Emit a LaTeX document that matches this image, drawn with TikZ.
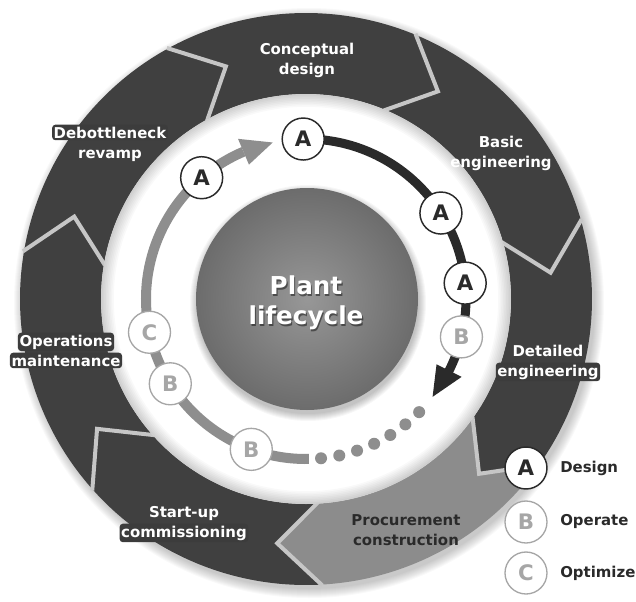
\documentclass[tikz,border=0pt]{standalone}
\usepackage{fontspec}
\setmainfont{DejaVu Sans}
\definecolor{ringgray}{HTML}{404040}
\definecolor{ringlight}{HTML}{8C8C8C}
\definecolor{sepgray}{HTML}{C6C6C6}
\definecolor{inkdark}{HTML}{2A2A2A}
\definecolor{inklight}{HTML}{A6A6A6}
\definecolor{trackgray}{HTML}{8E8E8E}
\definecolor{ballin}{HTML}{979797}
\definecolor{ballout}{HTML}{6C6C6C}
\definecolor{halo}{HTML}{3C3C3C}
\begin{document}
\begin{tikzpicture}[x=0.75pt,y=0.75pt,
  seglabel/.style={font=\fontsize{11.2}{15}\selectfont\bfseries, align=center, inner sep=0pt, text=white},
  boxline/.style={font=\fontsize{11.2}{15}\selectfont\bfseries, text=white, anchor=base,
    fill=halo, rounded corners=2.5pt, inner xsep=1.2pt, inner ysep=1.5pt},
  plainline/.style={font=\fontsize{11.2}{15}\selectfont\bfseries, text=white, anchor=base, inner sep=0pt},
  sep/.style={draw=sepgray, line width=3pt, line join=miter},
  marker/.style={circle, minimum size=31.5pt, inner sep=0pt, fill=white,
    font=\fontsize{16}{16}\selectfont\bfseries},
  markA/.style={marker, draw=inkdark, line width=1.1pt, text=inkdark},
  markB/.style={marker, draw=inklight, line width=1pt, text=inklight},
  legendtext/.style={anchor=west, inner sep=0pt, text=inkdark,
    font=\fontsize{11.2}{15}\selectfont\bfseries}]
\useasboundingbox (-306,-302) rectangle (330,299);

% soft shadow under the outer ring
\foreach \i in {1,...,10}{\fill[black, opacity=0.022] (3,-4) circle ({285+\i});}

% seven chevron segments of the lifecycle ring
\foreach \k/\col in {0/ringgray,1/ringgray,2/ringgray,3/ringlight,4/ringgray,5/ringgray,6/ringgray}{
  \pgfmathsetmacro\a{119-51.4286*\k}
  \pgfmathsetmacro\b{\a-51.4286}
  \pgfmathsetmacro\at{\a-10}
  \pgfmathsetmacro\bt{\b-10}
  \fill[\col] (\a:286) arc[start angle=\a, end angle=\b, radius=286]
    -- (\bt:246) -- (\b:205) arc[start angle=\b, end angle=\a, radius=205]
    -- (\at:246) -- cycle;
}
% separators between segments
\foreach \k in {0,...,6}{
  \pgfmathsetmacro\a{119-51.4286*\k}
  \pgfmathsetmacro\at{\a-10}
  \draw[sep] (\a:287) -- (\at:246) -- (\a:204);
}

% white band with soft inner edge
\fill[white] (0,0) circle (205);
\foreach \i in {1,...,8}{\fill[black, opacity=0.025, even odd rule] (0,0) circle (205) (0,0) circle ({205-1.6*\i});}

% centre ball
\foreach \i in {1,...,8}{\fill[black, opacity=0.03] (2,-4) circle ({110+\i});}
\node[circle, minimum size=166.5pt, inner sep=0pt, inner color=ballin, outer color=ballout, shade] (ball) at (1,0) {};
\node[font=\fontsize{18.5}{22.5}\selectfont\bfseries, align=center, text=black, opacity=0.45, xshift=0.8pt, yshift=-1.1pt] (ballshadow) at (0,-4) {Plant\\lifecycle};
\node[font=\fontsize{18.5}{22.5}\selectfont\bfseries, align=center, text=white] (balltext) at (0,-4) {Plant\\lifecycle};

% track: grey operating arc with arrow
\draw[trackgray, line width=7.5pt] (-89:160) arc[start angle=-89, end angle=-247, radius=160];
\fill[trackgray] (102:160) -- (113:146) -- (113:174) -- cycle;
% track: dark design arc with arrow
\draw[inkdark, line width=6.75pt] (91:160) arc[start angle=91, end angle=-27, radius=160];
\fill[inkdark] (-37.7:160) -- (-26.6:146) -- (-26.6:174) -- cycle;
% dotted continuation
\foreach \i in {0,...,6}{\fill[trackgray] ({-45-6.6*\i}:160) circle (6);}

% markers along the track
\node[markA] (a1) at (91:160) {A};
\node[markA] (a2) at (32.5:160) {A};
\node[markA] (a3) at (5.7:160) {A};
\node[markB] (b1) at (-13.7:160) {B};
\node[markB] (b2) at (-110:160) {B};
\node[markB] (b3) at (-148:160) {B};
\node[markB] (c1) at (-168:160) {C};
\node[markA] (a4) at (130.7:160) {A};

% segment labels
\node[seglabel] (concept) at (1,239) {Conceptual\\design};
\node[seglabel] (basic) at (195,146) {Basic\\engineering};
\node[plainline] (detailed) at (242,-57) {Detailed};
\node[boxline] (detailedb) at (242,-77) {engineering};
\node[seglabel, text=inkdark] (procure) at (100,-231) {Procurement\\construction};
\node[plainline] (startup) at (-122,-218) {Start-up};
\node[boxline] (startupb) at (-122,-238) {commissioning};
\node[boxline] (opsa) at (-240,-47) {Operations};
\node[boxline] (opsb) at (-240,-67) {maintenance};
\node[boxline] (debottle) at (-196,161) {Debottleneck};
\node[plainline] (debottleb) at (-196,141) {revamp};

% legend
\node[markA] (legA) at (220,-169) {A};
\node[markB] (legB) at (220,-223) {B};
\node[markB] (legC) at (220,-274) {C};
\node[legendtext] (legAt) at (254,-169) {Design};
\node[legendtext] (legBt) at (254,-223) {Operate};
\node[legendtext] (legCt) at (254,-274) {Optimize};
\end{tikzpicture}
\end{document}
